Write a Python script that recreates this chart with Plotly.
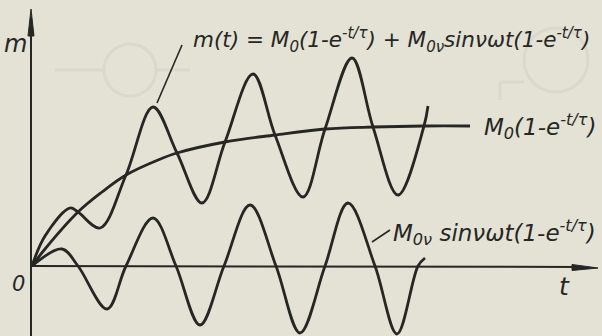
import plotly.graph_objects as go

# Time axis (t) and amplitude (m) readings for the three curves
exp_t = [0, 13, 46, 70, 94, 126, 145, 193, 243, 293, 341, 392, 438]
exp_m = [0, 17, 54, 74, 91, 106, 113, 124, 131, 137, 139, 140, 140]

total_t = [0, 13, 38, 46, 68, 94, 121, 145, 170, 193, 221, 243, 271, 293, 320, 341, 366, 392, 396]
total_m = [0, 30, 58, 54, 38, 91, 159, 113, 63, 124, 192, 131, 69, 137, 208, 139, 71, 140, 160]

osc_t = [0, 30, 46, 75, 94, 121, 144, 168, 192, 218, 244, 268, 293, 316, 343, 365, 386, 393]
osc_m = [0, 17, 0, -43, 0, 48, 0, -59, 0, 61, 0, -67, 0, 63, 0, -68, 0, 8]

PAPER = "#e3e2d5"
INK = "#262624"
GHOST = "#dad9cc"
FONT = dict(family="DejaVu Sans", size=22, color=INK)

# plot frame: origin of the axes sits 32 px from the left, 266 px from the top
X0, Y0, W, H = 32, 266, 602, 336


def px(x, y):
    """Convert a page position into axis units."""
    return x - X0, Y0 - y


fig = go.Figure()

line_style = dict(color=INK, width=2.8, shape="spline", smoothing=1.0)
fig.add_trace(go.Scatter(x=exp_t, y=exp_m, mode="lines", line=line_style))
fig.add_trace(go.Scatter(x=total_t, y=total_m, mode="lines", line=line_style))
fig.add_trace(go.Scatter(x=osc_t, y=osc_m, mode="lines", line=line_style))

shapes = []

# faint show-through from the reverse page
for cx, cy, r in [(130, 70, 26), (556, 60, 32)]:
    (x1, y1), (x2, y2) = px(cx - r, cy - r), px(cx + r, cy + r)
    shapes.append(dict(type="circle", xref="x", yref="y", x0=x1, y0=y1, x1=x2, y1=y2,
                       line=dict(color=GHOST, width=3), layer="below"))
for (a, b), (c, d) in [((55, 70), (104, 70)), ((156, 70), (190, 70)),
                       ((500, 82), (524, 82)), ((500, 82), (500, 100))]:
    (x1, y1), (x2, y2) = px(a, b), px(c, d)
    shapes.append(dict(type="line", xref="x", yref="y", x0=x1, y0=y1, x1=x2, y1=y2,
                       line=dict(color=GHOST, width=3), layer="below"))

# axes
ax_pts = [((31, 336), (31, 30)), ((31, 266), (580, 267))]
for (a, b), (c, d) in ax_pts:
    (x1, y1), (x2, y2) = px(a, b), px(c, d)
    shapes.append(dict(type="line", xref="x", yref="y", x0=x1, y0=y1, x1=x2, y1=y2,
                       line=dict(color=INK, width=2)))


# arrow heads
def tri(pts):
    conv = [px(*p) for p in pts]
    path = "M " + " L ".join(f"{x},{y}" for x, y in conv) + " Z"
    return dict(type="path", xref="x", yref="y", path=path,
                fillcolor=INK, line=dict(color=INK, width=1))


shapes.append(tri([(31, 9), (28, 36), (34, 36)]))
shapes.append(tri([(598, 268), (572, 264.5), (572, 270.5)]))

# leader lines
for (a, b), (c, d) in [((182, 45), (157, 103)), ((390, 230), (372, 242))]:
    (x1, y1), (x2, y2) = px(a, b), px(c, d)
    shapes.append(dict(type="line", xref="x", yref="y", x0=x1, y0=y1, x1=x2, y1=y2,
                       line=dict(color=INK, width=1.6)))

annotations = []


def label(text, x, y, size=22, anchor="left"):
    ax, ay = px(x, y)
    annotations.append(dict(x=ax, y=ay, xref="x", yref="y", text=text, showarrow=False,
                            xanchor=anchor, yanchor="middle",
                            font=dict(FONT, size=size, style="italic")))


label("m", 15, 44, 24, "center")
label("0", 18, 284, 21, "center")
label("t", 564, 286, 25, "center")
label("m(t) = M<sub>0</sub>(1-e<sup>-t/τ</sup>) + M<sub>0ν</sub>sinνωt(1-e<sup>-t/τ</sup>)",
      191, 40, 21.5)
label("M<sub>0</sub>(1-e<sup>-t/τ</sup>)", 482, 126, 23)
label("M<sub>0ν</sub> sinνωt(1-e<sup>-t/τ</sup>)", 391, 232, 23)

x_lo, y_hi = px(0, 0)
x_hi, y_lo = px(W, H)
fig.update_layout(
    width=W, height=H,
    margin=dict(l=0, r=0, t=0, b=0),
    paper_bgcolor=PAPER, plot_bgcolor=PAPER,
    showlegend=False,
    xaxis=dict(range=[x_lo, x_hi], visible=False, fixedrange=True),
    yaxis=dict(range=[y_lo, y_hi], visible=False, fixedrange=True),
    shapes=shapes, annotations=annotations,
)

fig.write_html("out.html", config=dict(displayModeBar=False))
